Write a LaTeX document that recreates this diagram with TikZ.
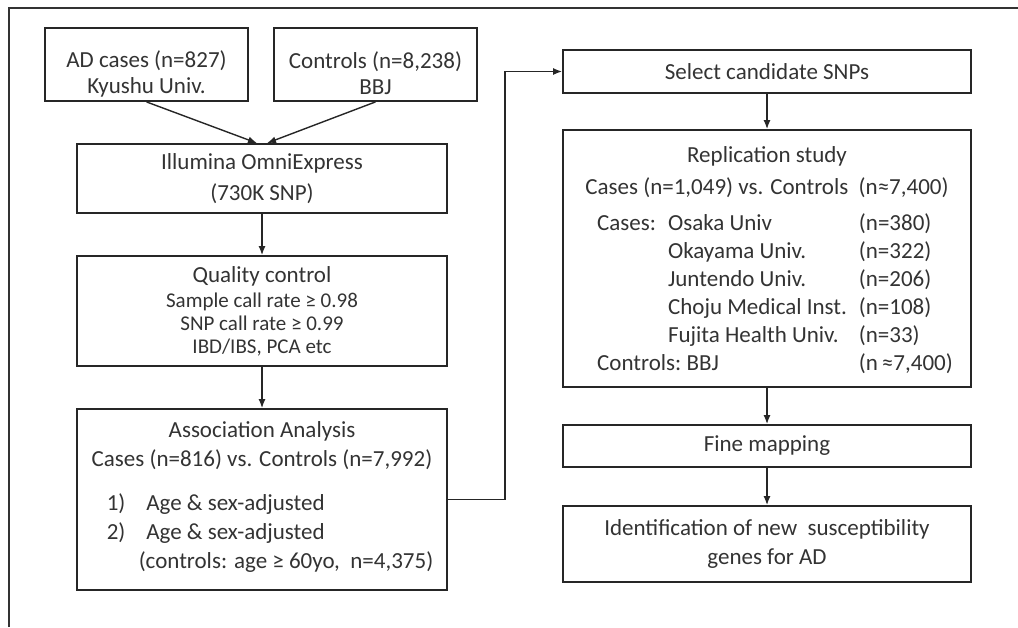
\documentclass[tikz,border=0pt]{standalone}
\usepackage{fontspec}
\setmainfont{Carlito}
\usetikzlibrary{arrows.meta,
	calc,
	positioning
}
\tikzset{
	box/.style={draw=black!85, line width=0.9pt, text=black!80, align=center, inner sep=0pt, font=\fontsize{11.5}{11.5}\selectfont},
	wide/.style={box, minimum width=204pt},
	left-col/.style={box, minimum width=185pt},
	source/.style={box, minimum width=101.5pt, minimum height=36.5pt, font=\fontsize{11.5}{13}\selectfont},
	arr/.style={-{Latex[length=4.5pt,width=3.5pt]}, line width=0.7pt, draw=black!85},
}
\newcommand{\qcfont}{\fontsize{10.5}{13}\selectfont}
\newcommand{\lowstrut}{\rule{0pt}{17.5pt}}

\begin{document}
\begin{tikzpicture}[x=0.5pt,y=-0.5pt]

\useasboundingbox (0,0) rectangle (1018,627);

% frame
\draw[line width=0.6pt, black!80] (9,627) -- (9,8) -- (1018,8);

% left column

\node[source] (ad) at (146.5,64.5) {\lowstrut AD cases (n=827)\\Kyushu Univ.};
\node[source] (ctrl) at (375.5,64.5) {\lowstrut Controls (n=8,238)\\BBJ};

\node[left-col, minimum height=34.5pt, font=\fontsize{11.5}{15.5}\selectfont] (illu) at (262,178.5) {Illumina OmniExpress\\(730K SNP)};

\node[left-col, minimum height=55pt] (qc) at (262,311) {Quality control\\[1pt]
	\qcfont Sample call rate ≥ 0.98\\\qcfont SNP call rate ≥ 0.99\\\qcfont IBD/IBS, PCA etc};

\node[left-col, minimum height=90.5pt, font=\fontsize{11.5}{14.5}\selectfont] (assoc) at (262,499.5) {Association Analysis\\
	Cases (n=816) vs. Controls (n=7,992)\\[9.5pt]
	\hspace*{8pt}\begin{tabular}{@{}l@{\hspace{10.5pt}}l@{}}
		1) & Age \& sex-adjusted\\
		2) & Age \& sex-adjusted\\
		\multicolumn{2}{@{\hspace{16pt}}l@{}}{(controls: age ≥ 60yo,\ \ n=4,375)}
	\end{tabular}};

% right column

\node[wide, minimum height=21.5pt] (sel) at (767,71.5) {Select candidate SNPs};

\node[wide, minimum height=128.5pt, font=\fontsize{11.5}{14}\selectfont] (rep) at (767,258.5) {\rule{0pt}{12pt}Replication study\\[2pt]
	Cases (n=1,049) vs. Controls\ \ (n≈7,400)\\[5.5pt]
	\hspace*{8pt}\begin{tabular}{@{}l@{\hspace{6pt}}l@{\hspace{6pt}}l@{}}
		Cases: & Osaka Univ & (n=380)\\
		& Okayama Univ. & (n=322)\\
		& Juntendo Univ. & (n=206)\\
		& Choju Medical Inst. & (n=108)\\
		& Fujita Health Univ. & (n=33)\\
		\multicolumn{2}{@{}l}{Controls:\ BBJ} & (n\hspace{2pt}≈7,400)
	\end{tabular}};

\node[wide, minimum height=21pt] (fine) at (767,446) {Fine mapping};

\node[wide, minimum height=38pt, font=\fontsize{11.5}{14.5}\selectfont] (ident) at (767,544) {Identification of new\ \ susceptibility\\genes for AD};

% connections

\draw[arr] (ad.south) -- ([xshift=-2.5pt]illu.north);
\draw[arr] (ctrl.south) -- ([xshift=2.5pt]illu.north);
\draw[arr] (illu) -- (qc);
\draw[arr] (qc) -- (assoc);

\coordinate (turn) at (505,72);
\draw[arr] (assoc.east) -| (turn) |- (sel.west);

\draw[arr] (sel) -- (rep);
\draw[arr] (rep) -- (fine);
\draw[arr] (fine) -- (ident);

\end{tikzpicture}
\end{document}
